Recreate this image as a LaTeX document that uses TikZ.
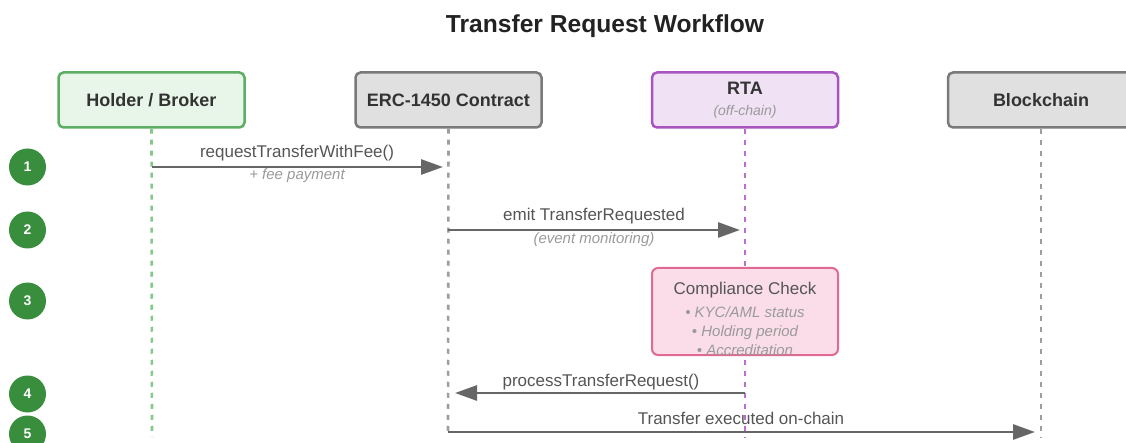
\documentclass[tikz,border=0pt]{standalone}
\usepackage{fontspec}
\setmainfont{Liberation Sans}
\usetikzlibrary{arrows.meta}
\definecolor{titlec}{HTML}{222222}
\definecolor{headc}{HTML}{333333}
\definecolor{lblc}{HTML}{555555}
\definecolor{subc}{HTML}{9A9A9A}
\definecolor{greenfill}{HTML}{E8F5E9}
\definecolor{greenline}{HTML}{5DAE62}
\definecolor{greenlife}{HTML}{86C78A}
\definecolor{grayfill}{HTML}{E0E0E0}
\definecolor{grayline}{HTML}{7A7A7A}
\definecolor{graylife}{HTML}{9E9E9E}
\definecolor{purpfill}{HTML}{F1E1F4}
\definecolor{purpline}{HTML}{A855C0}
\definecolor{purplife}{HTML}{BB6ECE}
\definecolor{pinkfill}{HTML}{FADDE8}
\definecolor{pinkline}{HTML}{E06A94}
\definecolor{stepc}{HTML}{388E3C}
\definecolor{arrowc}{HTML}{666666}
\begin{document}
\begin{tikzpicture}[x=1pt,y=-1pt,
  head/.style={draw, line width=2.5pt, rounded corners=5pt, minimum width=186pt, minimum height=55pt, inner sep=0pt, text=headc, font=\fontsize{18}{21}\selectfont\bfseries},
  life/.style={line width=2.6pt, dash pattern=on 5pt off 6pt},
  stepdot/.style={circle, fill=stepc, minimum size=37pt, inner sep=0pt, text=white, font=\fontsize{14}{16}\selectfont\bfseries},
  msg/.style={draw=arrowc, line width=2.8pt, -{Triangle[length=22pt,width=15pt]}},
  lbl/.style={anchor=base, inner sep=0pt, text=lblc, font=\fontsize{17}{20}\selectfont},
  sublbl/.style={anchor=base, inner sep=0pt, text=subc, font=\fontsize{15}{18}\selectfont\itshape},
]
\useasboundingbox (0,0) rectangle (1126,443);
\clip (0,0) rectangle (1126,443);

% title
\node[anchor=base, inner sep=0pt, text=titlec, font=\fontsize{24.6}{28}\selectfont\bfseries] (title) at (605,33) {Transfer Request Workflow};

% headers
\node[head, fill=greenfill, draw=greenline] (holder) at (151.5,100) {Holder / Broker};
\node[head, fill=grayfill, draw=grayline] (contract) at (448.5,100) {ERC-1450 Contract};
\node[head, fill=purpfill, draw=purpline] (rta) at (745,100) {};
\node[anchor=base, inner sep=0pt, text=headc, font=\fontsize{18}{21}\selectfont\bfseries] (rtaname) at (745,95) {RTA};
\node[sublbl, font=\fontsize{14}{17}\selectfont\itshape] (rtasub) at (745,116) {(off-chain)};
\node[head, fill=grayfill, draw=grayline] (chain) at (1041,100) {Blockchain};

% lifeline end points
\coordinate (hend) at (152,437);
\coordinate (cend) at (448,432);
\coordinate (rend) at (745,437);
\coordinate (bend) at (1041,437);

% message points
\coordinate (h1) at (152,167);
\coordinate (c1) at (448,167);
\coordinate (c2) at (448,230);
\coordinate (r2) at (745,230);
\coordinate (r4) at (745,393);
\coordinate (c4) at (448,393);
\coordinate (c5) at (448,432);
\coordinate (b5) at (1041,432);

% labels
\node[lbl] (m1) at (297,158) {requestTransferWithFee()};
\node[sublbl] (m1s) at (297,180) {+ fee payment};
\node[lbl] (m2) at (594,221) {emit TransferRequested};
\node[sublbl] (m2s) at (594,244) {(event monitoring)};
\node[lbl] (m4) at (601,386) {processTransferRequest()};
\node[lbl] (m5) at (741,424) {Transfer executed on-chain};

% lifelines
\draw[life, draw=greenlife] (holder.south) -- (hend);
\draw[life, draw=graylife] (contract.south) -- (cend);
\draw[life, draw=purplife] (rta.south) -- (rend);
\draw[life, draw=graylife] (chain.south) -- (bend);

% compliance box
\node[draw=pinkline, fill=pinkfill, line width=2pt, rounded corners=6pt, minimum width=186pt, minimum height=87pt, inner sep=0pt] (comp) at (745,311.5) {};
\node[lbl] (comp1) at (745,295) {Compliance Check};
\node[sublbl] (comp2) at (745,317) {• KYC/AML status};
\node[sublbl] (comp3) at (745,336) {• Holding period};
\node[sublbl] (comp4) at (745,355) {• Accreditation};

% arrows
\draw[msg, shorten >=5pt] (h1) -- (c1);
\draw[msg, shorten >=5pt] (c2) -- (r2);
\draw[msg, shorten >=7pt] (r4) -- (c4);
\draw[msg, shorten >=6pt] (c5) -- (b5);

% steps
\node[stepdot] (s1) at (27.5,167) {1};
\node[stepdot] (s2) at (27.5,230) {2};
\node[stepdot] (s3) at (27.5,301) {3};
\node[stepdot] (s4) at (27.5,394) {4};
\node[stepdot] (s5) at (27.5,434) {5};
\end{tikzpicture}
\end{document}
